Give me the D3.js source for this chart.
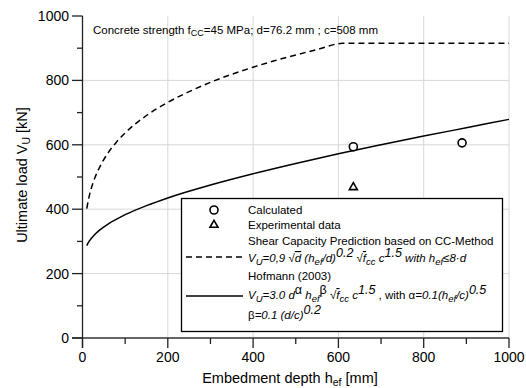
<!DOCTYPE html>
<html>
<head>
<meta charset="utf-8">
<script src="https://cdn.jsdelivr.net/npm/d3@7"></script>
<style>
  body { margin: 0; background: #fff; }
  svg { font-family: "Liberation Sans", Arial, sans-serif; }
</style>
</head>
<body>
<div id="chart"></div>
<script>
// values
const ccHef = [10, 15, 20, 30, 40, 60, 80, 100, 150, 200, 250, 300, 350, 400, 450, 500, 550, 609.6, 1000];
const ccVu = [402, 436, 462, 501, 530, 575, 609, 637, 691, 732, 765, 794, 819, 841, 861, 879, 896, 915, 915];
const hofHef = [10, 15, 20, 30, 40, 60, 80, 100, 150, 200, 300, 400, 500, 600, 700, 800, 900, 1000];
const hofVu = [287, 299, 308, 323, 335, 354, 369, 383, 411, 435, 475, 510, 542, 572, 600, 627, 653, 679];
const calcHef = [635, 890];
const calcVu = [594, 606];
const expHef = [635];
const expVu = [468];
const majorTicks = [0, 200, 400, 600, 800, 1000];
const minorTicks = [100, 300, 500, 700, 900];

const width = 526, height = 388;
const svg = d3.select("#chart").append("svg")
  .attr("width", width).attr("height", height);

const x = d3.scaleLinear().domain([0, 1000]).range([82.5, 509]);
const y = d3.scaleLinear().domain([0, 1000]).range([338, 16]);

// grid
const grid = svg.append("g").attr("stroke", "#d8d8d8").attr("stroke-width", 1);
majorTicks.filter(d => d > 0).forEach(d => {
  grid.append("line").attr("x1", x(d)).attr("x2", x(d)).attr("y1", y(0)).attr("y2", y(1000));
});
majorTicks.filter(d => d > 0 && d < 1000).forEach(d => {
  grid.append("line").attr("x1", x(0)).attr("x2", x(1000)).attr("y1", y(d)).attr("y2", y(d));
});

// curves
const line = d3.line().x(d => x(d[0])).y(d => y(d[1])).curve(d3.curveMonotoneX);
svg.append("path")
  .datum(d3.zip(ccHef, ccVu))
  .attr("d", line).attr("fill", "none").attr("stroke", "#000")
  .attr("stroke-width", 1.5).attr("stroke-dasharray", "6,4");
svg.append("path")
  .datum(d3.zip(hofHef, hofVu))
  .attr("d", line).attr("fill", "none").attr("stroke", "#000")
  .attr("stroke-width", 1.5);

// markers
const tri = d3.symbol().type(d3.symbolTriangle).size(28);
svg.selectAll("circle.calc").data(d3.zip(calcHef, calcVu)).join("circle")
  .attr("class", "calc")
  .attr("cx", d => x(d[0])).attr("cy", d => y(d[1])).attr("r", 4)
  .attr("fill", "#fff").attr("stroke", "#000").attr("stroke-width", 1.6);
svg.selectAll("path.exp").data(d3.zip(expHef, expVu)).join("path")
  .attr("class", "exp")
  .attr("transform", d => `translate(${x(d[0])},${y(d[1])})`)
  .attr("d", tri).attr("fill", "#fff").attr("stroke", "#000").attr("stroke-width", 1.6);

// axes
const axG = svg.append("g");
axG.append("line").attr("x1", 72).attr("x2", x(1000)).attr("y1", y(0)).attr("y2", y(0))
  .attr("stroke", "#666").attr("stroke-width", 2);
axG.append("line").attr("x1", x(0)).attr("x2", x(0)).attr("y1", y(1000)).attr("y2", 348)
  .attr("stroke", "#222").attr("stroke-width", 1.3);
majorTicks.forEach(d => {
  axG.append("line").attr("x1", x(d)).attr("x2", x(d)).attr("y1", y(0)).attr("y2", 348)
    .attr("stroke", "#222").attr("stroke-width", 1.3);
  axG.append("line").attr("x1", 72).attr("x2", x(0)).attr("y1", y(d)).attr("y2", y(d))
    .attr("stroke", "#222").attr("stroke-width", 1.3);
  axG.append("text").attr("x", x(d)).attr("y", 362).attr("text-anchor", "middle")
    .attr("font-size", 14).text(d);
  axG.append("text").attr("x", 69).attr("y", y(d) + 5).attr("text-anchor", "end")
    .attr("font-size", 14).text(d);
});
minorTicks.forEach(d => {
  axG.append("line").attr("x1", x(d)).attr("x2", x(d)).attr("y1", y(0)).attr("y2", 344)
    .attr("stroke", "#222").attr("stroke-width", 1.3);
  axG.append("line").attr("x1", 77).attr("x2", x(0)).attr("y1", y(d)).attr("y2", y(d))
    .attr("stroke", "#222").attr("stroke-width", 1.3);
});

// axis titles
const xt = svg.append("text").attr("x", 290).attr("y", 383).attr("text-anchor", "middle").attr("font-size", 14.5);
xt.append("tspan").text("Embedment depth h");
xt.append("tspan").attr("font-size", 10.5).attr("dy", 3).text("ef");
xt.append("tspan").attr("dy", -3).text(" [mm]");

const yt = svg.append("text").attr("transform", "translate(27,175) rotate(-90)")
  .attr("text-anchor", "middle").attr("font-size", 14.5);
yt.append("tspan").text("Ultimate load V");
yt.append("tspan").attr("font-size", 10.5).attr("dy", 3).text("U");
yt.append("tspan").attr("dy", -3).text(" [kN]");

// annotation
const ann = svg.append("text").attr("x", 93).attr("y", 34).attr("font-size", 11.5);
ann.append("tspan").text("Concrete strength f");
ann.append("tspan").attr("font-size", 9).attr("dy", 2).text("CC");
ann.append("tspan").attr("dy", -2).text("=45 MPa; d=76.2 mm ; c=508 mm");

// legend
const lg = svg.append("g");
lg.append("rect").attr("x", 181.5).attr("y", 198.5).attr("width", 321).attr("height", 133)
  .attr("fill", "#fff").attr("stroke", "#000").attr("stroke-width", 1.3);
lg.append("circle").attr("cx", 214).attr("cy", 210).attr("r", 4)
  .attr("fill", "#fff").attr("stroke", "#000").attr("stroke-width", 1.6);
lg.append("path").attr("transform", "translate(214,225)").attr("d", tri)
  .attr("fill", "#fff").attr("stroke", "#000").attr("stroke-width", 1.6);
lg.append("line").attr("x1", 186).attr("x2", 243).attr("y1", 257).attr("y2", 257)
  .attr("stroke", "#000").attr("stroke-width", 1.5).attr("stroke-dasharray", "6,4");
lg.append("line").attr("x1", 186).attr("x2", 243).attr("y1", 296).attr("y2", 296)
  .attr("stroke", "#000").attr("stroke-width", 1.5);

const tx = 248;
function rich(yPos, parts) {
  const t = lg.append("text").attr("x", tx).attr("y", yPos).attr("font-size", 11.5);
  let shift = 0;
  parts.forEach(p => {
    const s = t.append("tspan").text(p.t);
    const want = p.sup ? -5 : p.sub ? 2.5 : 0;
    s.attr("dy", want - shift);
    shift = want;
    if (p.i) s.attr("font-style", "italic");
    if (p.sub) s.attr("font-size", 9.5);
    if (p.sup) s.attr("font-size", 12.5);
    if (p.o) s.style("text-decoration", "overline");
  });
}
rich(214, [{ t: "Calculated" }]);
rich(229, [{ t: "Experimental data" }]);
rich(245, [{ t: "Shear Capacity Prediction based on CC-Method" }]);
rich(262, [
  { t: "V", i: 1 }, { t: "U", i: 1, sub: 1 }, { t: "=0,9 \u221A", i: 1 }, { t: "d", i: 1, o: 1 },
  { t: " (h", i: 1 }, { t: "ef", i: 1, sub: 1 }, { t: "/d)", i: 1 }, { t: "0.2", i: 1, sup: 1 },
  { t: " \u221A", i: 1 }, { t: "f", i: 1, o: 1 }, { t: "cc", i: 1, sub: 1 },
  { t: " c", i: 1 }, { t: "1.5", i: 1, sup: 1 }, { t: " with h", i: 1 }, { t: "ef", i: 1, sub: 1 },
  { t: "\u22648\u00B7d", i: 1 }
]);
rich(280, [{ t: "Hofmann (2003)" }]);
rich(299, [
  { t: "V", i: 1 }, { t: "U", i: 1, sub: 1 }, { t: "=3.0 d", i: 1 }, { t: "\u03B1", sup: 1 },
  { t: " h", i: 1 }, { t: "ef", i: 1, sub: 1 }, { t: "\u03B2", sup: 1 },
  { t: " \u221A", i: 1 }, { t: "f", i: 1, o: 1 }, { t: "cc", i: 1, sub: 1 },
  { t: " c", i: 1 }, { t: "1.5", i: 1, sup: 1 }, { t: " , with \u03B1" },
  { t: "=0.1(h", i: 1 }, { t: "ef", i: 1, sub: 1 }, { t: "/c)", i: 1 }, { t: "0.5", i: 1, sup: 1 }
]);
rich(319, [{ t: "\u03B2" }, { t: "=0.1 (d/c)", i: 1 }, { t: "0.2", i: 1, sup: 1 }]);
</script>
</body>
</html>
